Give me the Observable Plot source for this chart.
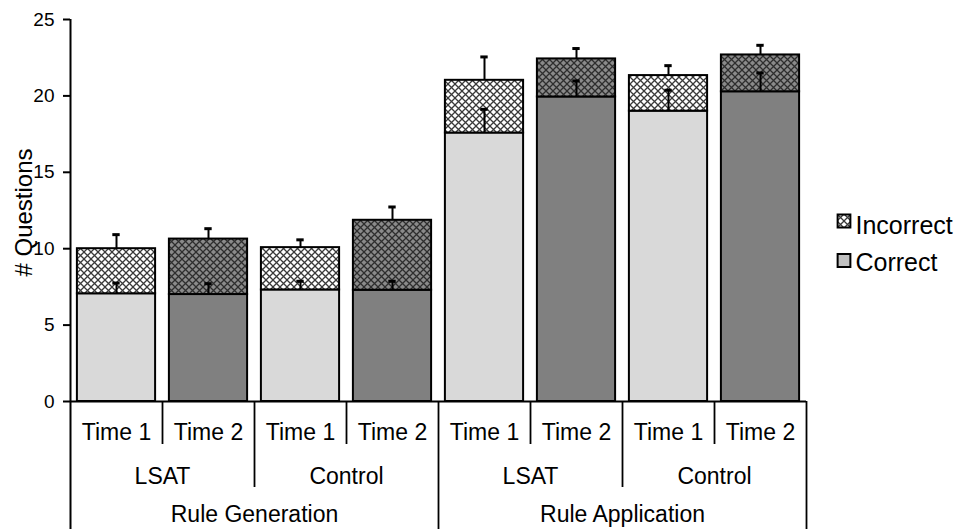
<!DOCTYPE html>
<html>
<head>
<meta charset="utf-8">
<script src="https://cdn.jsdelivr.net/npm/d3@7"></script>
<script src="https://cdn.jsdelivr.net/npm/@observablehq/plot@0.6"></script>
<style>
  html, body { margin: 0; padding: 0; background: #fff; }
  #chart { width: 960px; height: 529px; }
</style>
</head>
<body>
<div id="chart"></div>
<script>
// ---- data ----
const measures = ["Rule Generation", "Rule Generation", "Rule Generation", "Rule Generation",
                  "Rule Application", "Rule Application", "Rule Application", "Rule Application"];
const groups = ["LSAT", "LSAT", "Control", "Control", "LSAT", "LSAT", "Control", "Control"];
const times = ["Time 1", "Time 2", "Time 1", "Time 2", "Time 1", "Time 2", "Time 1", "Time 2"];
const correct = [7.05, 7.0, 7.3, 7.28, 17.57, 19.93, 19.0, 20.27];
const correctErr = [0.70, 0.71, 0.57, 0.59, 1.55, 1.05, 1.37, 1.23];
const incorrect = [2.95, 3.63, 2.77, 4.58, 3.45, 2.49, 2.33, 2.41];
const incorrectErr = [0.92, 0.68, 0.51, 0.87, 1.53, 0.68, 0.65, 0.63];
const yTicks = [0, 5, 10, 15, 20, 25];
const seriesLabels = ["Incorrect", "Correct"];
const yLabel = "# Questions";

// ---- layout ----
const W = 960, H = 529;
const mTop = 19, mBottom = 128, mLeft = 70, mRight = 154;
const yMax = 25;
const pxPerUnit = (H - mTop - mBottom) / yMax;
const below = px => -px / pxPerUnit; // depth below the baseline in y units
const half = 0.425;
const font = "Liberation Sans, Arial, Helvetica, sans-serif";

const rows = measures.map((m, i) => ({
  i, m, g: groups[i], t: times[i],
  c: correct[i], ce: correctErr[i],
  inc: incorrect[i], ie: incorrectErr[i]
}));

// group spans (for labels and dividers)
const groupSpans = Array.from(d3.rollup(rows, v => d3.mean(v, d => d.i), d => d.m + "|" + d.g),
  ([k, x]) => ({label: k.split("|")[1], x}));
const measureSpans = Array.from(d3.rollup(rows, v => d3.mean(v, d => d.i), d => d.m),
  ([label, x]) => ({label, x}));

const timeDividers = rows.filter((d, j) => j < rows.length - 1 && rows[j + 1].g === d.g && rows[j + 1].m === d.m).map(d => d.i + 0.5);
const groupDividers = rows.filter((d, j) => j < rows.length - 1 && rows[j + 1].g !== d.g && rows[j + 1].m === d.m).map(d => d.i + 0.5);
const measureDividers = rows.filter((d, j) => j < rows.length - 1 && rows[j + 1].m !== d.m).map(d => d.i + 0.5);
const xMin = -0.5, xMaxv = rows.length - 0.5;

const fillCorrect = d => d.t === "Time 1" ? "#d9d9d9" : "#808080";
const fillIncorrect = d => d.t === "Time 1" ? "url(#hatchLight)" : "url(#hatchDark)";

const defs = () => {
  const g = document.createElementNS("http://www.w3.org/2000/svg", "g");
  g.innerHTML = `<defs>
    <pattern id="hatchLight" patternUnits="userSpaceOnUse" width="7" height="7">
      <rect width="7" height="7" fill="#ffffff"/>
      <path d="M0,0L7,7M7,0L0,7" stroke="#3a3a3a" stroke-width="1.3"/>
    </pattern>
    <pattern id="hatchDark" patternUnits="userSpaceOnUse" width="7" height="7">
      <rect width="7" height="7" fill="#8a8a8a"/>
      <path d="M0,0L7,7M7,0L0,7" stroke="#2e2e2e" stroke-width="1.3"/>
    </pattern>
  </defs>`;
  return g;
};

const legendIncorrect = [seriesLabels[0]];
const legendCorrect = [seriesLabels[1]];

const chart = Plot.plot({
  width: W,
  height: H,
  marginTop: mTop,
  marginBottom: mBottom,
  marginLeft: mLeft,
  marginRight: mRight,
  style: {fontFamily: font, background: "#fff", color: "#000", overflow: "visible"},
  x: {domain: [xMin, xMaxv], axis: null},
  y: {domain: [0, yMax], axis: null},
  color: {type: "identity"},
  marks: [
    defs,
    // correct segments
    Plot.rect(rows, {x1: d => d.i - half, x2: d => d.i + half, y1: 0, y2: d => d.c,
      fill: fillCorrect, stroke: "#000", strokeWidth: 2}),
    // incorrect segments
    Plot.rect(rows, {x1: d => d.i - half, x2: d => d.i + half, y1: d => d.c, y2: d => d.c + d.inc,
      fill: fillIncorrect, stroke: "#000", strokeWidth: 2}),
    // error bars (correct)
    Plot.ruleX(rows, {x: d => d.i, y1: d => d.c, y2: d => d.c + d.ce, stroke: "#000", strokeWidth: 2}),
    Plot.ruleY(rows, {y: d => d.c + d.ce, x1: d => d.i - 0.04, x2: d => d.i + 0.04, stroke: "#000", strokeWidth: 3}),
    // error bars (total)
    Plot.ruleX(rows, {x: d => d.i, y1: d => d.c + d.inc, y2: d => d.c + d.inc + d.ie, stroke: "#000", strokeWidth: 2}),
    Plot.ruleY(rows, {y: d => d.c + d.inc + d.ie, x1: d => d.i - 0.04, x2: d => d.i + 0.04, stroke: "#000", strokeWidth: 3}),
    // y axis
    Plot.axisY({ticks: yTicks, tickSize: 7, tickPadding: 9, fontSize: 19, label: null, strokeWidth: 2}),
    Plot.ruleX([xMin], {y1: below(mBottom), y2: yMax, stroke: "#000", strokeWidth: 2}),
    // baseline
    Plot.ruleY([0], {x1: xMin, x2: xMaxv, stroke: "#000", strokeWidth: 2}),
    // category table lines
    Plot.ruleX(timeDividers, {x: d => d, y1: 0, y2: below(43), stroke: "#000", strokeWidth: 1.8}),
    Plot.ruleX(groupDividers, {x: d => d, y1: 0, y2: below(86), stroke: "#000", strokeWidth: 1.8}),
    Plot.ruleX(measureDividers, {x: d => d, y1: 0, y2: below(mBottom), stroke: "#000", strokeWidth: 1.8}),
    Plot.ruleX([xMaxv], {y1: 0, y2: below(mBottom), stroke: "#000", strokeWidth: 1.8}),
    // category labels
    Plot.text(rows, {x: d => d.i, y: 0, dy: 31, text: d => d.t, fontSize: 23, fill: "#000"}),
    Plot.text(groupSpans, {x: "x", y: 0, dy: 75, text: "label", fontSize: 23, fill: "#000"}),
    Plot.text(measureSpans, {x: "x", y: 0, dy: 113, text: "label", fontSize: 23, fill: "#000"}),
    // y label
    Plot.text([yLabel], {frameAnchor: "left", rotate: -90, dx: -46, dy: 2, textAnchor: "middle",
      text: d => d, fontSize: 24, fill: "#000"}),
    // legend
    Plot.dot(legendIncorrect, {frameAnchor: "right", dx: 37.5, dy: 10.5, symbol: "square", r: 7.2,
      fill: "url(#hatchLight)", stroke: "#000", strokeWidth: 2}),
    Plot.dot(legendCorrect, {frameAnchor: "right", dx: 37.5, dy: 50, symbol: "square", r: 7.2,
      fill: "#c0c0c0", stroke: "#000", strokeWidth: 2}),
    Plot.text(legendIncorrect, {frameAnchor: "right", dx: 49, dy: 15, text: d => d,
      textAnchor: "start", fontSize: 25, fill: "#000"}),
    Plot.text(legendCorrect, {frameAnchor: "right", dx: 49, dy: 52, text: d => d,
      textAnchor: "start", fontSize: 25, fill: "#000"})
  ]
});

document.getElementById("chart").appendChild(chart);
</script>
</body>
</html>
